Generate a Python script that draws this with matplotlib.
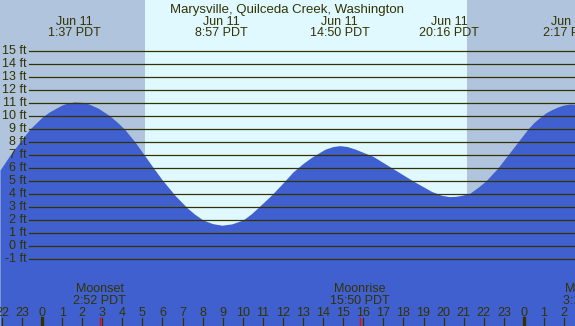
import matplotlib
matplotlib.use("Agg")
import matplotlib.pyplot as plt
import matplotlib.transforms as mtransforms

plt.rcParams['font.family'] = ['Liberation Sans', 'DejaVu Sans']

# data
title = "Marysville, Quilceda Creek, Washington"

# tide curve (hours since midnight Jun 11, feet)
tide_hr = [-2.09, -1.59, -1.10, -0.60, 0.00, 0.35, 0.70, 1.00, 1.24, 1.62,
           2.00, 2.29, 2.80, 3.39, 3.80, 4.13, 4.63, 5.00, 5.53, 5.98,
           6.62, 7.22, 7.60, 8.02, 8.50, 8.96, 9.45, 10.01, 10.40, 10.76,
           11.45, 12.00, 12.50, 13.00, 13.45, 14.10, 14.50, 14.84, 15.20, 15.60,
           16.48, 17.43, 18.48, 19.40, 19.90, 20.27, 20.60, 20.90, 21.30, 21.70,
           22.10, 22.70, 23.20, 23.70, 24.20, 24.50, 24.80, 25.10, 25.40, 25.70,
           25.95, 26.28, 26.54]
tide_ft = [5.85, 7.0, 8.0, 9.0, 9.9, 10.3, 10.6, 10.85, 10.98, 11.08,
           11.05, 10.95, 10.6, 10.0, 9.45, 8.95, 8.0, 7.2, 6.05, 5.1,
           3.9, 2.95, 2.45, 2.0, 1.72, 1.6, 1.7, 2.0, 2.45, 2.95,
           3.95, 4.85, 5.7, 6.35, 6.85, 7.45, 7.65, 7.72, 7.65, 7.45,
           6.9, 6.0, 5.0, 4.2, 3.9, 3.8, 3.82, 3.9, 4.05, 4.5,
           5.0, 6.0, 7.0, 8.0, 9.0, 9.5, 9.9, 10.25, 10.5, 10.7,
           10.83, 10.92, 10.9]

# high / low labels at the top
ext_hr = [1.62, 8.95, 14.83, 20.27, 26.28]
ext_day = ["Jun 11", "Jun 11", "Jun 11", "Jun 11", "Jun 12"]
ext_time = ["1:37 PDT", "8:57 PDT", "14:50 PDT", "20:16 PDT", "2:17 PDT"]

# sun
sunrise = 5.13
sunset = 21.17

# moon
moon_hr = [2.87, 15.83, 27.24]
moon_name = ["Moonset", "Moonrise", "Moonset"]
moon_time = ["2:52 PDT", "15:50 PDT", "3:14 PDT"]

grid_ft = list(range(-1, 16))
hour_ticks = list(range(-2, 27))

W, H = 575, 326
x0, x1 = -2.092, 26.544
y0, y1 = -6.154, 18.923

txt = '#333300'
night = '#b0c4de'
day = '#e0f8ff'
water = '#4060d0'

fig = plt.figure(figsize=(W / 100, H / 100), dpi=100)
ax = fig.add_axes([0, 0, 1, 1])
ax.set_xlim(x0, x1)
ax.set_ylim(y0, y1)
ax.axis('off')

# night / day background
ax.axvspan(x0, sunrise, color=night, zorder=0, lw=0)
ax.axvspan(sunrise, sunset, color=day, zorder=0, lw=0)
ax.axvspan(sunset, x1, color=night, zorder=0, lw=0)

ax.fill_between(tide_hr, tide_ft, y0, color=water, lw=0, zorder=1)

left = mtransforms.blended_transform_factory(ax.transAxes, ax.transData)
for v in grid_ft:
    ax.axhline(v, xmin=29 / W, xmax=1, color=txt, lw=0.9, zorder=2)
    ax.text(27 / W, v, "%d ft" % v, transform=left,
            ha='right', va='center', fontsize=9, color=txt, zorder=3)

top = mtransforms.blended_transform_factory(ax.transData, ax.transAxes)

ax.text(0.5, 1 - 13 / H, title, transform=ax.transAxes, ha='center', va='baseline',
        fontsize=9.5, color=txt)
for h, d, t in zip(ext_hr, ext_day, ext_time):
    ax.text(h, 1 - 25 / H, d, transform=top, ha='center', va='baseline', fontsize=9, color=txt)
    ax.text(h, 1 - 36.5 / H, t, transform=top, ha='center', va='baseline', fontsize=9, color=txt)

# moon rise / set
for h, n, t in zip(moon_hr, moon_name, moon_time):
    ax.text(h, 1 - 291.5 / H, n, transform=top, ha='center', va='baseline', fontsize=9, color=txt)
    ax.text(h, 1 - 304 / H, t, transform=top, ha='center', va='baseline', fontsize=9, color=txt)
    ax.axvline(h, ymin=0, ymax=8 / H, color='red', lw=1.0, zorder=3)

# hour ticks
for h in hour_ticks:
    ax.text(h, 1 - 316.5 / H, str(h % 24), transform=top, ha='center', va='baseline',
            fontsize=9, color=txt)
    if h % 24 == 0:
        ax.axvline(h, ymin=0, ymax=8 / H, color=txt, lw=2.4, zorder=3)
    else:
        ax.axvline(h, ymin=0, ymax=8 / H, color=txt, lw=0.9, zorder=3)

fig.savefig('out.png', dpi=100)
